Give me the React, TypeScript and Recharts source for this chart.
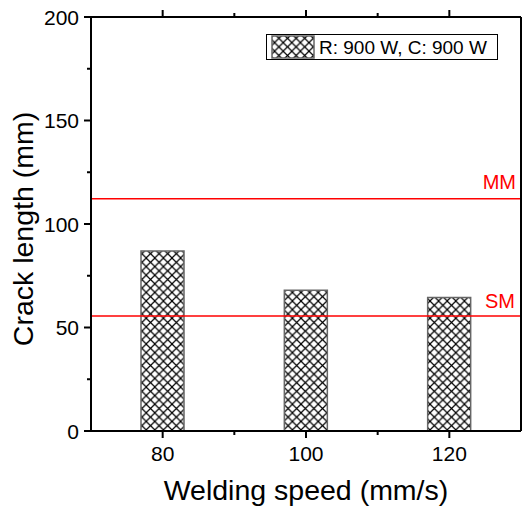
import React from 'react';
import { ComposedChart, Bar, XAxis, YAxis, ReferenceLine } from 'recharts';

const speeds = [80, 100, 120];
const crackLengths = [87, 68, 64.5];
const seriesName = 'R: 900 W, C: 900 W';
const xTicks = [70, 80, 90, 100, 110, 120, 130];
const xMajor = [80, 100, 120];
const yTicks = [0, 25, 50, 75, 100, 125, 150, 175, 200];
const yMajor = [0, 50, 100, 150, 200];
const refLines = [
  { name: 'MM', value: 112.2 },
  { name: 'SM', value: 55.5 },
];

const data = speeds.map((s, i) => ({ speed: s, crack: crackLengths[i] }));

const FONT = '"Liberation Sans", Arial, sans-serif';

const BottomTick = (props: any) => {
  const { x, y, payload } = props;
  const v = payload.value;
  if (v === 70 || v === 130) return null;
  const major = xMajor.includes(v);
  return (
    <g>
      <line x1={x} x2={x} y1={y} y2={y + (major ? 7 : 4)} stroke="#000" strokeWidth={2} />
      {major && (
        <text x={x} y={y + 30} textAnchor="middle" fontSize={21} fontFamily={FONT} fill="#000">
          {v}
        </text>
      )}
    </g>
  );
};

const TopTick = (props: any) => {
  const { x, y, payload } = props;
  const v = payload.value;
  if (v === 70 || v === 130) return null;
  const major = xMajor.includes(v);
  return <line x1={x} x2={x} y1={y} y2={y - (major ? 7 : 4)} stroke="#000" strokeWidth={2} />;
};

const LeftTick = (props: any) => {
  const { x, y, payload } = props;
  const v = payload.value;
  const major = yMajor.includes(v);
  return (
    <g>
      <line x1={x} x2={x - (major ? 7 : 4)} y1={y} y2={y} stroke="#000" strokeWidth={2} />
      {major && (
        <text x={x - 12} y={y} dy="0.36em" textAnchor="end" fontSize={21} fontFamily={FONT} fill="#000">
          {v}
        </text>
      )}
    </g>
  );
};

const RightTick = (props: any) => {
  const { x, y, payload } = props;
  const v = payload.value;
  const major = yMajor.includes(v);
  return <line x1={x} x2={x + (major ? 7 : 4)} y1={y} y2={y} stroke="#000" strokeWidth={2} />;
};

const makeRefLabel = (name: string, dy: number, dx: number) => (props: any) => {
  const vb = props.viewBox || {};
  return (
    <text
      x={(vb.x || 0) + (vb.width || 0) - dx}
      y={(vb.y || 0) - dy}
      textAnchor="end"
      fontSize={20}
      fontFamily={FONT}
      fill="#ff0000"
    >
      {name}
    </text>
  );
};

export default function App() {
  return (
    <div style={{ position: 'absolute', left: 0, top: 0, width: 524, height: 511, background: '#fff' }}>
      <ComposedChart
        width={524}
        height={511}
        data={data}
        margin={{ top: 16, right: 2, bottom: 0, left: 0 }}
      >
        <defs>
          <pattern id="crosshatch" patternUnits="userSpaceOnUse" width={8.6} height={8.6}>
            <rect width={8.6} height={8.6} fill="#fff" />
            <path d="M0,0 L8.6,8.6 M8.6,0 L0,8.6" stroke="#000" strokeWidth={1.2} />
          </pattern>
        </defs>
        <XAxis
          dataKey="speed"
          type="number"
          domain={[70, 130]}
          ticks={xTicks}
          interval={0}
          height={80}
          tickSize={0}
          tickMargin={0}
          tickLine={false}
          axisLine={{ stroke: '#000', strokeWidth: 2 }}
          tick={<BottomTick />}
          label={(p: any) => {
            const vb = p.viewBox || {};
            return (
              <text
                x={(vb.x || 0) + (vb.width || 0) / 2}
                y={500}
                textAnchor="middle"
                fontSize={28.5}
                fontFamily={FONT}
                fill="#000"
              >
                Welding speed (mm/s)
              </text>
            );
          }}
        />
        <XAxis
          xAxisId="top"
          orientation="top"
          dataKey="speed"
          type="number"
          domain={[70, 130]}
          ticks={xTicks}
          interval={0}
          height={1}
          tickSize={0}
          tickMargin={0}
          tickLine={false}
          axisLine={{ stroke: '#000', strokeWidth: 2 }}
          tick={<TopTick />}
        />
        <YAxis
          type="number"
          domain={[0, 200]}
          ticks={yTicks}
          interval={0}
          width={91}
          tickSize={0}
          tickMargin={0}
          tickLine={false}
          axisLine={{ stroke: '#000', strokeWidth: 2 }}
          tick={<LeftTick />}
        />
        <YAxis
          yAxisId="right"
          orientation="right"
          type="number"
          domain={[0, 200]}
          ticks={yTicks}
          interval={0}
          width={1}
          tickSize={0}
          tickMargin={0}
          tickLine={false}
          axisLine={{ stroke: '#000', strokeWidth: 2 }}
          tick={<RightTick />}
        />
        <Bar
          dataKey="crack"
          name={seriesName}
          barSize={43}
          fill="url(#crosshatch)"
          stroke="#666"
          strokeWidth={1.5}
          isAnimationActive={false}
        />
        {refLines.map((r) => (
          <ReferenceLine
            key={r.name}
            y={r.value}
            stroke="#ff0000"
            strokeWidth={1.5}
            label={makeRefLabel(r.name, r.name === 'MM' ? 10 : 8, r.name === 'MM' ? 5 : 6)}
          />
        ))}
      </ComposedChart>
      <svg
        width={524}
        height={511}
        style={{ position: 'absolute', left: 0, top: 0, pointerEvents: 'none' }}
      >
        <text
          transform="translate(33, 229) rotate(-90)"
          textAnchor="middle"
          fontSize={28.5}
          fontFamily={FONT}
          fill="#000"
        >
          Crack length (mm)
        </text>
        <g transform="translate(266, 34)">
          <rect x={0.5} y={0.5} width={231} height={25} fill="#fff" stroke="#000" strokeWidth={1} />
          <rect x={6} y={2} width={42} height={22} fill="url(#crosshatch)" stroke="#666" strokeWidth={1.5} />
          <text x={53} y={20} fontSize={19} fontFamily={FONT} fill="#000">
            {seriesName}
          </text>
        </g>
      </svg>
    </div>
  );
}
